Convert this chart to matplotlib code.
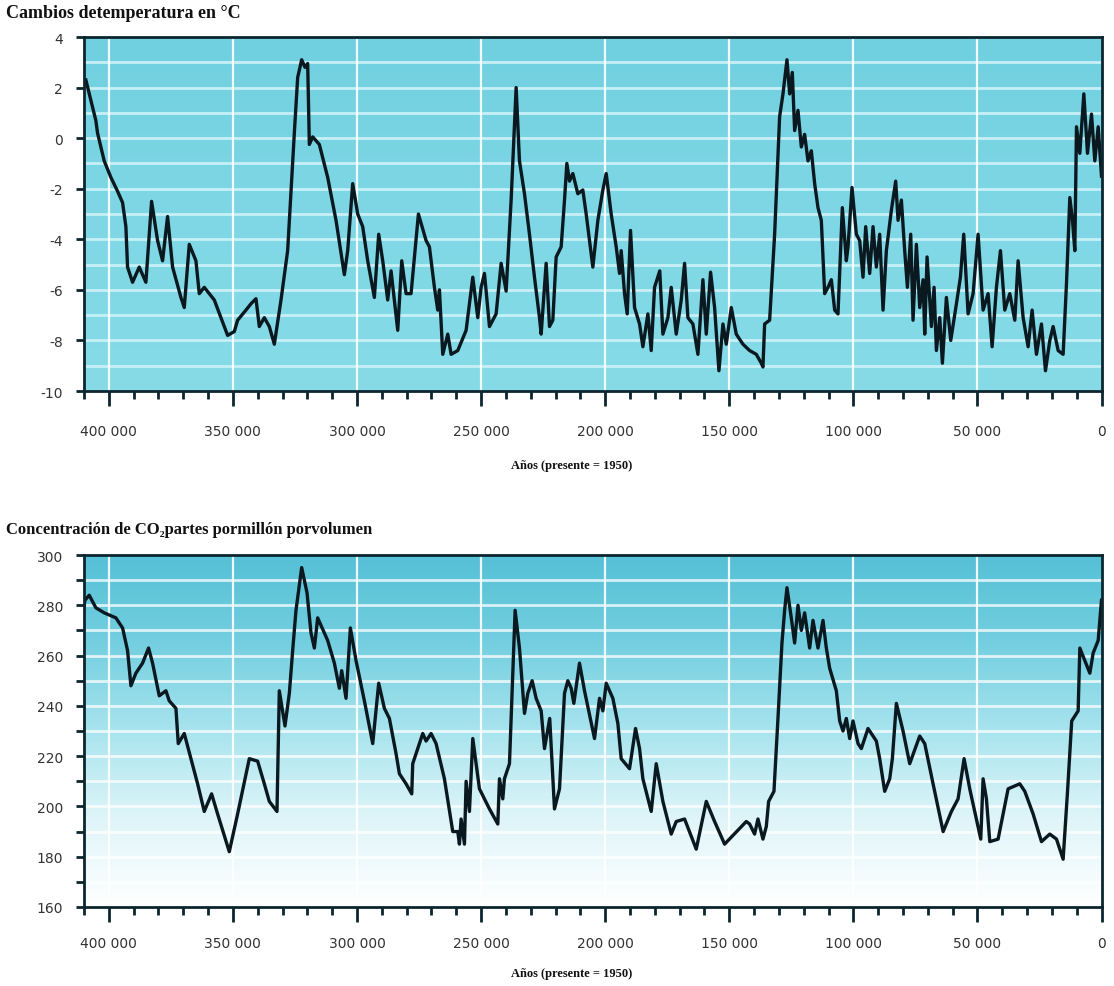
import numpy as np
import matplotlib
matplotlib.use("Agg")
import matplotlib.pyplot as plt
from matplotlib.colors import LinearSegmentedColormap
from matplotlib.ticker import MultipleLocator

plt.rcParams['font.family'] = ['Liberation Serif', 'DejaVu Serif']
plt.rcParams['axes.unicode_minus'] = False

# Temperature change (°C), years before present (1950)
temp_years = [
    409250, 407240, 405230, 404540, 401860, 399170, 396480, 394460, 393120, 392450,
    390430, 387740, 385060, 382770, 380350, 378340, 376320, 374300, 370940, 369600,
    367580, 364900, 363550, 361540, 359520, 357500, 354820, 352130, 349440, 348100,
    344740, 342720, 340700, 339360, 337340, 335330, 333310, 330620, 327940, 325250,
    323900, 322290, 320950, 319870, 319200, 317860, 315170, 311810, 308450, 305090,
    303740, 301730, 299710, 297700, 295680, 293000, 291250, 289630, 287620, 286270,
    283580, 281970, 280220, 278210, 275250, 272160, 270820, 268800, 267460, 266780,
    265440, 263420, 262080, 259390, 256030, 253340, 251330, 249980, 248640, 246620,
    243940, 241920, 239900, 237890, 235870, 234530, 232510, 230500, 228480, 226460,
    225790, 223780, 222430, 221090, 219740, 217730, 216380, 215440, 214370, 213020,
    211010, 209000, 207650, 206300, 204960, 202940, 200930, 199580, 197570, 195550,
    194210, 193540, 192190, 191120, 189780, 188160, 186140, 184800, 182780, 181440,
    180100, 178000, 176740, 174720, 173380, 171360, 169340, 168000, 166660, 164640,
    162620, 160610, 159260, 157520, 155900, 154160, 152540, 151200, 149180, 147170,
    144480, 141790, 139100, 137090, 136420, 135740, 133730, 131710, 129700, 128350,
    126740, 125660, 124590, 123650, 122300, 120960, 119620, 118270, 116930, 115580,
    114240, 112900, 111550, 110210, 108860, 107520, 106180, 104430, 102820, 102140,
    100530, 98780, 97440, 96100, 95020, 93410, 92060, 90720, 89380, 88030,
    86690, 84670, 82930, 81980, 80640, 79300, 78220, 76880, 75940, 74590,
    73250, 71900, 71230, 70290, 68540, 67470, 66530, 65180, 64110, 62500,
    60750, 58460, 56850, 55510, 53760, 51740, 49730, 47710, 45700, 44080,
    42340, 40720, 38980, 36960, 34940, 33600, 31580, 29570, 27960, 26210,
    24190, 22580, 20830, 19490, 17470, 15460, 14110, 12770, 11690, 10750,
    10080, 8740, 7120, 5650, 4030, 2690, 1340, 0,
]
temp_values = [
    2.3, 1.5, 0.7, 0.2, -0.9, -1.55, -2.1, -2.55, -3.5, -5.1,
    -5.7, -5.1, -5.7, -2.5, -4.05, -4.85, -3.1, -5.1, -6.3, -6.7,
    -4.2, -4.85, -6.15, -5.9, -6.15, -6.4, -7.1, -7.8, -7.65, -7.2,
    -6.8, -6.55, -6.35, -7.45, -7.1, -7.45, -8.15, -6.4, -4.45, 0.2,
    2.4, 3.1, 2.8, 2.95, -0.25, 0.05, -0.25, -1.55, -3.25, -5.4,
    -4.45, -1.8, -3.0, -3.5, -4.85, -6.3, -3.8, -4.85, -6.4, -5.25,
    -7.6, -4.85, -6.15, -6.15, -3.0, -4.05, -4.3, -5.9, -6.8, -6.0,
    -8.55, -7.75, -8.55, -8.4, -7.6, -5.5, -7.1, -5.9, -5.35, -7.45,
    -6.95, -4.95, -6.05, -2.45, 2.0, -0.9, -2.2, -3.8, -5.5, -7.1,
    -7.75, -4.95, -7.45, -7.2, -4.7, -4.3, -2.45, -1.0, -1.7, -1.4,
    -2.2, -2.05, -3.0, -4.05, -5.1, -3.25, -2.05, -1.4, -3.0, -4.3,
    -5.35, -4.45, -6.15, -6.95, -3.65, -6.7, -7.35, -8.25, -6.95, -8.4,
    -5.9, -5.25, -7.75, -7.1, -5.9, -7.75, -6.4, -4.95, -7.1, -7.35,
    -8.55, -5.6, -7.75, -5.3, -6.7, -9.2, -7.35, -8.15, -6.7, -7.75,
    -8.15, -8.4, -8.55, -8.9, -9.05, -7.35, -7.2, -3.8, 0.85, 1.75,
    3.1, 1.75, 2.6, 0.3, 1.1, -0.35, 0.15, -0.9, -0.5, -1.8,
    -2.75, -3.25, -6.15, -5.9, -5.6, -6.8, -6.95, -2.75, -4.85, -4.3,
    -1.95, -3.8, -4.05, -5.5, -3.5, -5.35, -3.5, -5.1, -3.8, -6.8,
    -4.45, -2.85, -1.7, -3.25, -2.45, -4.45, -5.9, -3.8, -7.2, -4.2,
    -6.7, -5.6, -7.75, -4.7, -7.45, -5.9, -8.4, -7.1, -8.9, -6.3,
    -8.0, -6.55, -5.5, -3.8, -6.95, -6.15, -3.8, -6.8, -6.15, -8.25,
    -5.9, -4.45, -6.8, -6.15, -7.2, -4.85, -7.1, -8.25, -6.8, -8.55,
    -7.35, -9.2, -8.0, -7.45, -8.4, -8.55, -5.75, -2.35, -3.25, -4.45,
    0.45, -0.6, 1.75, -0.6, 0.95, -0.9, 0.45, -1.5,
]

# CO2 concentration (ppmv), years before present (1950)
co2_years = [
    410590, 409650, 407900, 405220, 401860, 397150, 394460, 392450, 391100, 389090,
    386400, 383980, 382370, 379680, 376990, 375650, 372960, 372020, 369600, 366910,
    364220, 361540, 358580, 356160, 351460, 348100, 343390, 340030, 337340, 335330,
    332240, 331300, 329010, 327260, 325920, 324580, 322290, 320140, 318530, 317180,
    315840, 311810, 309120, 307100, 306160, 304420, 302670, 300380, 297020, 293660,
    291250, 288960, 286940, 284260, 282910, 280220, 277940, 277540, 273500, 272160,
    270140, 268130, 264770, 261410, 259390, 258720, 258050, 256700, 256030, 254690,
    253340, 250660, 246620, 243260, 242590, 241250, 240580, 238560, 236280, 234530,
    232510, 231170, 229420, 227810, 225790, 224450, 222340, 220420, 218400, 216380,
    215040, 213700, 212620, 210340, 208320, 204290, 202270, 200930, 199580, 196900,
    194880, 193540, 190180, 187760, 186140, 184800, 181440, 179420, 176740, 173380,
    171360, 168000, 163300, 159260, 155900, 151870, 143140, 141790, 139780, 138430,
    136420, 135070, 134130, 131980, 130370, 128760, 127680, 126740, 125000, 123650,
    122300, 120960, 119620, 117600, 116260, 114240, 112220, 110880, 109540, 106850,
    105500, 104160, 102820, 101470, 100130, 98110, 96770, 94080, 90720, 89380,
    87360, 85340, 84270, 82660, 79970, 77280, 73250, 71230, 67870, 63810,
    60480, 57790, 55370, 53090, 50400, 48650, 47710, 46370, 45020, 41660,
    37630, 32930, 30910, 27550, 24190, 20830, 18140, 15460, 13690, 12000,
    9410, 8740, 6720, 4700, 3360, 1340, 0,
]
co2_values = [
    275, 282, 284, 279, 277, 275, 271, 262, 248, 253,
    257, 263, 257, 244, 246, 242, 239, 225, 229, 219,
    209, 198, 205, 197, 182, 197, 219, 218, 209, 202,
    198, 246, 232, 245, 262, 278, 295, 285, 269, 263,
    275, 266, 257, 247, 254, 243, 271, 258, 242, 225,
    249, 239, 235, 221, 213, 209, 205, 217, 229, 226,
    229, 225, 211, 190, 190, 185, 195, 185, 210, 198,
    227, 207, 199, 193, 211, 203, 211, 217, 278, 263,
    237, 245, 250, 243, 238, 223, 235, 199, 207, 245,
    250, 247, 241, 257, 246, 227, 243, 238, 249, 243,
    233, 219, 215, 231, 223, 211, 198, 217, 202, 189,
    194, 195, 183, 202, 194, 185, 194, 193, 189, 195,
    187, 192, 202, 206, 235, 265, 278, 287, 275, 265,
    280, 270, 277, 263, 274, 263, 274, 263, 255, 246,
    234, 230, 235, 227, 234, 225, 223, 231, 226, 219,
    206, 211, 219, 241, 230, 217, 228, 225, 209, 190,
    198, 203, 219, 207, 195, 187, 211, 203, 186, 187,
    207, 209, 206, 197, 186, 189, 187, 179, 206, 234,
    238, 263, 258, 253, 261, 266, 282,
]

year_ticks = [400000, 350000, 300000, 250000, 200000, 150000, 100000, 50000, 0]
year_labels = ['400 000', '350 000', '300 000', '250 000', '200 000',
               '150 000', '100 000', '50 000', '0']
temp_ticks = [4, 2, 0, -2, -4, -6, -8, -10]
co2_ticks = [300, 280, 260, 240, 220, 200, 180, 160]

W, H = 1114, 987
fig = plt.figure(figsize=(W / 100, H / 100), dpi=100)

spine_col = '#0c2630'
line_col = '#0a1820'
tick_font = dict(fontsize=10, color='#333333', family=['DejaVu Sans'])


def px_axes(left, top, right, bottom):
    return fig.add_axes([left / W, 1 - bottom / H, (right - left) / W, (bottom - top) / H])


def add_gradient(ax, colors):
    cmap = LinearSegmentedColormap.from_list('bg', colors)
    grad = np.linspace(0, 1, 256).reshape(-1, 1)  # row 0 is drawn at the top
    ax.imshow(grad, cmap=cmap, extent=[0, 1, 0, 1], transform=ax.transAxes,
              aspect='auto', zorder=0, interpolation='bicubic')


def style_axes(ax, ylim, yticks, ygrid_step, ygrid_col, yminor, xpad):
    ax.set_xlim(410000, 0)
    ax.set_ylim(*ylim)
    ax.set_xticks(year_ticks)
    ax.set_xticklabels(year_labels, **tick_font)
    ax.xaxis.set_minor_locator(MultipleLocator(10000))
    ax.set_yticks(yticks)
    ax.set_yticklabels([str(v) for v in yticks], **tick_font)
    if yminor:
        ax.yaxis.set_minor_locator(MultipleLocator(yminor))
    # horizontal grid bands
    for yv in np.arange(ylim[0] + ygrid_step, ylim[1], ygrid_step):
        ax.axhline(yv, color=ygrid_col, lw=2.0, zorder=1)
    for xv in year_ticks[:-1]:
        ax.axvline(xv, color='white', lw=1.6, alpha=0.9, zorder=1)
    for s in ax.spines.values():
        s.set_color(spine_col)
        s.set_linewidth(2.0)
        s.set_zorder(5)
    ax.tick_params(axis='x', which='major', length=11, width=2, color=spine_col, pad=xpad)
    ax.tick_params(axis='x', which='minor', length=6, width=2, color=spine_col)
    ax.tick_params(axis='y', which='major', length=6, width=2, color=spine_col, pad=9)
    ax.tick_params(axis='y', which='minor', length=6, width=2, color=spine_col)


# Temperature panel
ax1 = px_axes(84, 38, 1101.5, 392)
add_gradient(ax1, ['#70d0df', '#7fd7e5', '#86dbe7'])
style_axes(ax1, (-10, 4), temp_ticks, 1, '#c6f0f6', None, 13)
ax1.plot(temp_years, temp_values, color=line_col, lw=2.4, zorder=3, solid_joinstyle='round')

# CO2 panel
ax2 = px_axes(84, 556, 1101.5, 908)
add_gradient(ax2, ['#55c0d6', '#74cfe0', '#a8e4ee', '#dff5f9', '#ffffff'])
style_axes(ax2, (160, 300), co2_ticks, 10, (1, 1, 1, 0.75), 10, 10)
ax2.plot(co2_years, co2_values, color=line_col, lw=2.4, zorder=3, solid_joinstyle='round')

fig.text(6 / W, 1 - 13 / H, 'Cambios detemperatura en °C',
         fontsize=13, fontweight='bold', color='#111111', ha='left', va='center')
fig.text(6 / W, 1 - 530 / H, 'Concentración de CO₂partes pormillón porvolumen',
         fontsize=12, fontweight='bold', color='#111111', ha='left', va='center')

xlabel_font = dict(fontsize=9, fontweight='bold', color='#111111', ha='center', va='center')
fig.text(572 / W, 1 - 466 / H, 'Años (presente = 1950)', **xlabel_font)
fig.text(572 / W, 1 - 974 / H, 'Años (presente = 1950)', **xlabel_font)

fig.savefig('out.png', dpi=100, facecolor='white')
